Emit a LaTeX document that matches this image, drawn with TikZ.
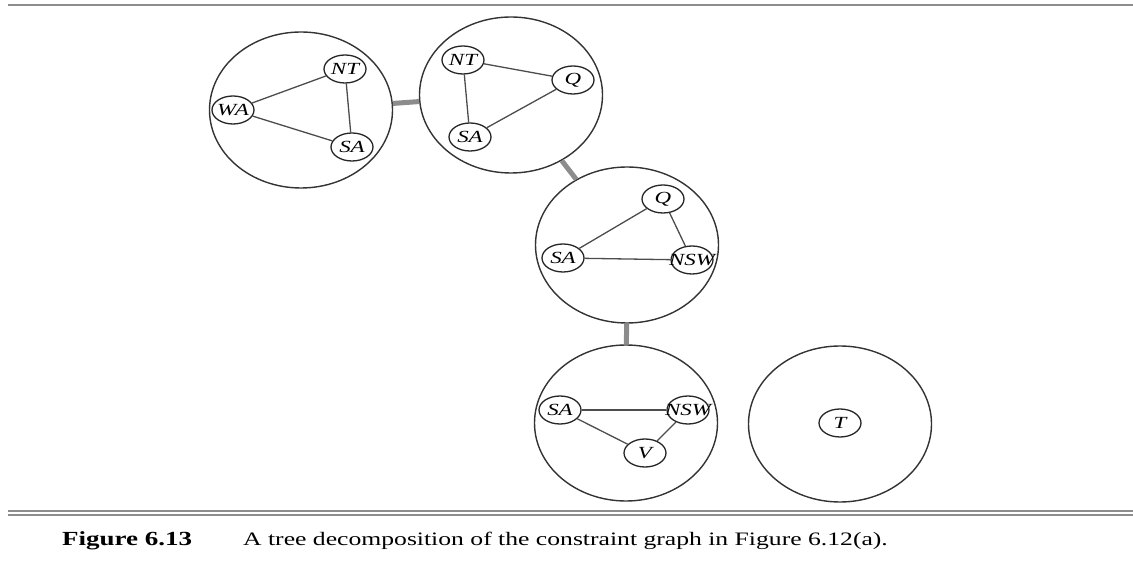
\documentclass[tikz,border=0pt]{standalone}
\usepackage{fontspec}
\setmainfont[FakeStretch=1.35]{Liberation Serif}
\usetikzlibrary{shapes}
\tikzset{>=latex}
\tikzset{
  bag/.style={ellipse,draw=black!80,line width=1.4pt,minimum width=183pt,minimum height=156pt,inner sep=0pt},
  var/.style={ellipse,draw=black!85,line width=1.3pt,minimum width=42pt,minimum height=28pt,inner sep=0pt,font=\fontsize{17}{19}\selectfont\itshape},
  link/.style={draw=black!70,line width=1.3pt},
  treelink/.style={draw=black!45,line width=5pt},
  rule/.style={draw=black!45,line width=2pt}
}
\newcommand{\vname}[1]{\makebox[24pt]{#1}}

\begin{document}
\begin{tikzpicture}[x=1pt,y=1pt]
\useasboundingbox (0,0) rectangle (1133,560);

%%% Rules
\draw[rule] (8,555) -- (1133,555);
\draw[rule] (8,49.5) -- (1133,49.5);
\draw[rule] (8,45.5) -- (1133,45.5);

%%% Bags of the tree
\node[bag] (bag1) at (301,450) {};
\node[bag] (bag2) at (511,465) {};
\node[bag] (bag3) at (627,315) {};
\node[bag] (bag4) at (626,137) {};
\node[bag] (bag5) at (840,136) {};

\draw[treelink] (bag1) -- (bag2);
\draw[treelink] (bag2) -- (bag3);
\draw[treelink] (bag3) -- (bag4);

%%% Bag 1
\node[var] (nt1) at (345,491) {\vname{NT}};
\node[var] (wa1) at (233,450) {\vname{WA}};
\node[var] (sa1) at (352,413) {\vname{SA}};
\draw[link] (wa1) -- (nt1);
\draw[link] (wa1) -- (sa1);
\draw[link] (nt1) -- (sa1);

%%% Bag 2
\node[var] (nt2) at (463,500) {\vname{NT}};
\node[var] (q2) at (573,480) {\vname{Q}};
\node[var] (sa2) at (470,423) {\vname{SA}};
\draw[link] (nt2) -- (q2);
\draw[link] (nt2) -- (sa2);
\draw[link] (sa2) -- (q2);

%%% Bag 3
\node[var] (q3) at (663,361) {\vname{Q}};
\node[var] (sa3) at (563,302) {\vname{SA}};
\node[var] (nsw3) at (692,300) {\vname{NSW}};
\draw[link] (sa3) -- (q3);
\draw[link] (sa3) -- (nsw3);
\draw[link] (q3) -- (nsw3);

%%% Bag 4
\node[var] (sa4) at (560,150) {\vname{SA}};
\node[var] (nsw4) at (688,150) {\vname{NSW}};
\node[var] (v4) at (645,107) {\vname{V}};
\draw[link] (sa4) -- (nsw4);
\draw[link] (sa4) -- (v4);
\draw[link] (v4) -- (nsw4);

%%% Bag 5
\node[var] (t5) at (840,137) {\vname{T}};

%%% Caption
\node[anchor=base west,inner sep=0pt,font=\fontsize{20}{22}\selectfont\bfseries] (fig) at (62,15) {Figure 6.13};
\node[anchor=base west,inner sep=0pt,font=\fontsize{19}{22}\selectfont] (cap) at (243,15) {A tree decomposition of the constraint graph in Figure 6.12(a).};

\end{tikzpicture}
\end{document}
